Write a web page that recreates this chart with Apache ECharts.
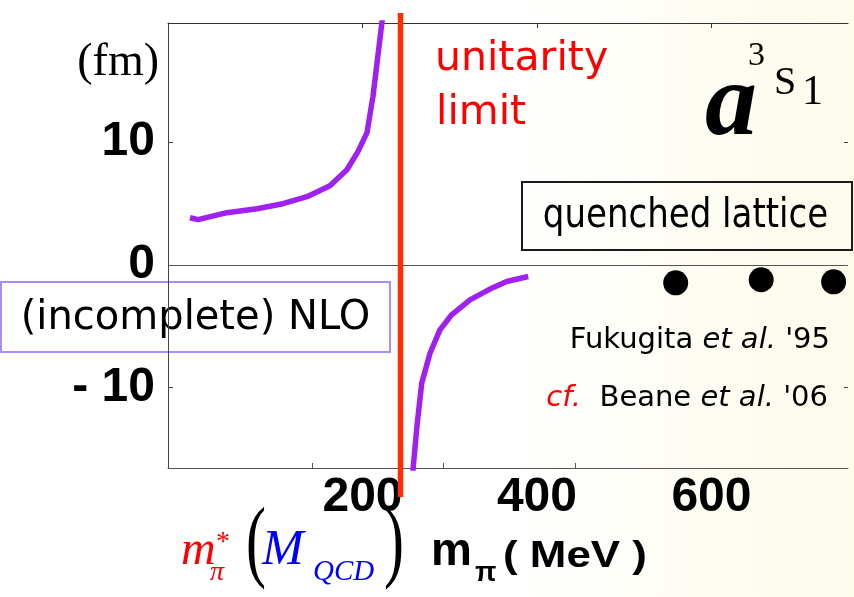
<!DOCTYPE html>
<html>
<head>
<meta charset="utf-8">
<script src="https://cdn.jsdelivr.net/npm/echarts@6/dist/echarts.min.js"></script>
<style>
html, body { margin: 0; padding: 0; background: #fff; }
#chart { width: 854px; height: 597px; }
</style>
</head>
<body>
<div id="chart"></div>
<script>
// tick positions / labels
var xTickLabels = [200, 400, 600];
var xBottomTicks = [142, 293, 444];
var yTickLabels = [-10, 0, 10];

// (incomplete) NLO curve, branch below the pole
var upperX = [2.3, 11.5, 44.7, 79.1, 108.9, 136.4, 162.7, 182.2, 194.8, 205.2, 212.0, 222.3, 224.5];
var upperY = [3.83, 3.67, 4.24, 4.56, 4.97, 5.54, 6.44, 7.74, 9.21, 10.76, 13.69, 19.72, 21.0];
// branch above the pole
var lowerX = [257.5, 258.2, 262.8, 267.9, 277.4, 288.8, 302.2, 323.2, 346.1, 365.3, 390.0];
var lowerY = [-17.2, -16.44, -12.90, -9.64, -7.20, -5.30, -4.07, -2.85, -1.98, -1.36, -0.95];

// quenched lattice (Fukugita et al. '95)
var latticeX = [559, 657, 740];
var latticeY = [-1.47, -1.22, -1.39];

// unitarity limit at m_pi*
var unitarityX = [243.6, 243.6];
var unitarityY = [20.5, -18.9];

function zip(xs, ys) {
    var out = [];
    for (var i = 0; i < xs.length; i++) {
        out.push([xs[i], ys[i]]);
    }
    return out;
}

// text placed by its baseline
function txt(s, x, base, size, o) {
    o = o || {};
    var st = {
        text: s,
        fontSize: size,
        fontFamily: o.family || 'DejaVu Sans',
        fontStyle: o.style || 'normal',
        fontWeight: o.weight || 'normal',
        fill: o.color || '#000',
        align: o.align || 'left',
        verticalAlign: 'middle'
    };
    if (o.rich) st.rich = o.rich;
    return {
        type: 'text',
        x: x,
        y: base - 0.345 * size,
        scaleX: o.sx || 1,
        scaleY: o.sy || 1,
        silent: true,
        style: st
    };
}

var serif = 'Liberation Serif';
var sans = 'Liberation Sans';
var axisFont = { fontSize: 48, fontWeight: 'bold', fontFamily: sans, color: '#000' };

var myChart = echarts.init(document.getElementById('chart'));

var option = {
    animation: false,
    backgroundColor: new echarts.graphic.LinearGradient(0, 0, 1, 0, [
        { offset: 0, color: '#ffffff' },
        { offset: 0.6, color: '#ffffff' },
        { offset: 1, color: '#fdfbea' }
    ]),
    grid: {
        left: 168,
        right: 6,
        top: 23,
        bottom: 129,
        outerBoundsMode: 'none'
    },
    xAxis: [{
        type: 'value',
        position: 'bottom',
        min: -22.9,
        max: 756.5,
        axisLine: { show: true, onZero: false, lineStyle: { color: '#555', width: 1 } },
        axisTick: { show: true, inside: true, length: 5, customValues: xBottomTicks, lineStyle: { color: '#555' } },
        axisLabel: Object.assign({ customValues: xTickLabels, margin: 6 }, axisFont),
        splitLine: { show: false }
    }, {
        type: 'value',
        position: 'top',
        min: -22.9,
        max: 756.5,
        axisLine: { show: true, onZero: false, lineStyle: { color: '#333', width: 1 } },
        axisTick: { show: true, inside: true, length: 5, customValues: xTickLabels, lineStyle: { color: '#333' } },
        axisLabel: { show: false },
        splitLine: { show: false }
    }],
    yAxis: [{
        type: 'value',
        position: 'left',
        min: -16.54,
        max: 19.68,
        axisLine: { show: true, onZero: false, lineStyle: { color: '#444', width: 1 } },
        axisTick: { show: true, inside: true, length: 5, customValues: yTickLabels, lineStyle: { color: '#444' } },
        axisLabel: Object.assign({
            customValues: yTickLabels,
            margin: 13,
            padding: [0, 0, 10, 0],
            formatter: function (v) {
                return v < 0 ? '- ' + Math.abs(v) : String(v);
            }
        }, axisFont),
        splitLine: { show: false }
    }, {
        type: 'value',
        position: 'right',
        min: -16.54,
        max: 19.68,
        axisLine: { show: false, onZero: false },
        axisTick: { show: true, inside: true, length: 4, customValues: [-10, 10], lineStyle: { color: '#444' } },
        axisLabel: { show: false },
        splitLine: { show: false }
    }],
    series: [{
        name: 'NLO',
        type: 'line',
        data: zip(upperX, upperY),
        symbol: 'none',
        lineStyle: { color: '#a020f0', width: 5.5 },
        markLine: {
            silent: true,
            symbol: 'none',
            label: { show: false },
            lineStyle: { color: '#555', width: 1, type: 'solid' },
            data: [{ yAxis: 0 }]
        }
    }, {
        name: 'NLO 2',
        type: 'line',
        data: zip(lowerX, lowerY),
        symbol: 'none',
        lineStyle: { color: '#a020f0', width: 5.5 }
    }, {
        name: 'unitarity limit',
        type: 'line',
        data: zip(unitarityX, unitarityY),
        symbol: 'none',
        clip: false,
        z: 5,
        lineStyle: { color: '#ff2d00', width: 5.5 }
    }, {
        name: 'quenched lattice',
        type: 'scatter',
        data: zip(latticeX, latticeY),
        symbolSize: 25,
        itemStyle: { color: '#000', opacity: 1 }
    }],
    graphic: [
        txt('(fm)', 159, 79, 46, { family: serif, align: 'right' }),
        txt('unitarity', 435, 73, 41, { color: '#ff0000' }),
        txt('limit', 436, 127, 41, { color: '#ff0000' }),

        txt('a', 705, 143, 104, { family: serif, style: 'italic', weight: 'bold' }),
        txt('3', 748, 68, 34, { family: serif }),
        txt('S', 774, 97, 40, { family: serif }),
        txt('1', 802, 107, 42, { family: serif }),

        {
            type: 'rect', silent: true,
            shape: { x: 522, y: 182, width: 330, height: 68 },
            style: { fill: 'transparent', stroke: '#1a1a1a', lineWidth: 2 }
        },
        txt('quenched lattice', 685.5, 230, 41, { align: 'center', sx: 0.83 }),

        {
            type: 'rect', silent: true,
            shape: { x: 1, y: 282, width: 389, height: 70 },
            style: { fill: 'transparent', stroke: '#ab8cff', lineWidth: 2 }
        },
        txt('(incomplete) NLO', 195.5, 332, 40, { align: 'center' }),

        txt('Fukugita {i|et al.} \'95', 830, 350, 29, {
            align: 'right',
            rich: { i: { fontSize: 29, fontFamily: 'DejaVu Sans', fontStyle: 'italic', fill: '#000' } }
        }),
        txt('{r|cf.}  Beane {i|et al.} \'06', 828, 408, 29, {
            align: 'right',
            rich: {
                r: { fontSize: 29, fontFamily: 'DejaVu Sans', fontStyle: 'italic', fill: '#ff0000' },
                i: { fontSize: 29, fontFamily: 'DejaVu Sans', fontStyle: 'italic', fill: '#000' }
            }
        }),

        // x axis title: m_pi*(M_QCD)  m_pi ( MeV )
        txt('m', 181, 568, 48, { family: serif, style: 'italic', color: '#ff0000' }),
        txt('*', 216, 552, 28, { family: serif, color: '#ff0000' }),
        txt('\u03c0', 210, 582, 28, { family: serif, style: 'italic', color: '#ff0000' }),
        txt('(', 246, 567, 60, { family: serif, sy: 1.5 }),
        txt('M', 262, 568, 50, { family: serif, style: 'italic', color: '#0000ff' }),
        txt('QCD', 313, 582, 29, { family: serif, style: 'italic', color: '#0000ff' }),
        txt(')', 384, 567, 60, { family: serif, sy: 1.5 }),
        txt('m', 431, 568, 46, { family: sans, weight: 'bold' }),
        txt('\u03c0', 475, 583, 28, { family: sans, weight: 'bold' }),
        txt('( MeV )', 503, 569, 36, { family: sans, weight: 'bold', sx: 1.22 })
    ]
};

myChart.setOption(option);
</script>
</body>
</html>
